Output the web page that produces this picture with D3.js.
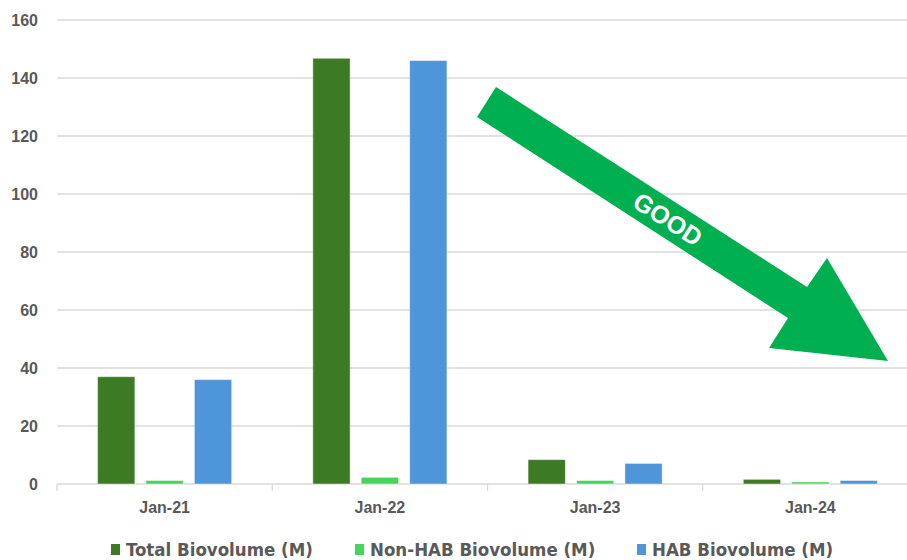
<!DOCTYPE html>
<html>
<head>
<meta charset="utf-8">
<script src="https://cdn.jsdelivr.net/npm/d3@7"></script>
<style>
  body { margin: 0; background: #fff; }
  svg { display: block; }
</style>
</head>
<body>
<div id="chart"></div>
<script>
// data
const categories = ['Jan-21', 'Jan-22', 'Jan-23', 'Jan-24'];
const seriesNames = ['Total Biovolume (M)', 'Non-HAB Biovolume (M)', 'HAB Biovolume (M)'];
const totalValues = [37.0, 146.8, 8.4, 1.6];
const nonHabValues = [1.2, 2.3, 1.2, 0.7];
const habValues = [36.0, 146.0, 7.1, 1.2];
const yTicks = [0, 20, 40, 60, 80, 100, 120, 140, 160];
const colors = ['#3c7a24', '#47d45a', '#4f95da'];

const width = 907, height = 560;
const margin = { top: 20, right: -11, bottom: 76, left: 57 }; // plot runs past right edge
const plotW = width - margin.left - margin.right;
const plotH = height - margin.top - margin.bottom;

const svg = d3.select('#chart').append('svg')
  .attr('width', width)
  .attr('height', height);

const g = svg.append('g')
  .attr('transform', 'translate(' + margin.left + ',' + margin.top + ')');

// scales
const x0 = d3.scaleBand()
  .domain(categories)
  .range([0, plotW])
  .paddingInner(0.377)
  .paddingOuter(0.1885);

const x1 = d3.scaleBand()
  .domain(seriesNames)
  .range([0, x0.bandwidth()])
  .paddingInner(0.23)
  .paddingOuter(0);

const y = d3.scaleLinear()
  .domain([0, 160])
  .range([plotH, 0]);

// gridlines
g.append('g')
  .selectAll('line')
  .data(yTicks)
  .join('line')
  .attr('x1', 0)
  .attr('x2', plotW)
  .attr('y1', d => y(d))
  .attr('y2', d => y(d))
  .attr('stroke', '#d9d9d9')
  .attr('stroke-width', 1.3);

// y labels
const yAxis = d3.axisLeft(y).tickValues(yTicks).tickSize(0).tickPadding(19);
g.append('g')
  .call(yAxis)
  .call(s => s.select('.domain').remove())
  .selectAll('text')
  .attr('fill', '#595959')
  .style('font-family', 'Liberation Sans, Arial, sans-serif')
  .style('font-weight', 'bold')
  .style('font-size', '16px');

// x axis ticks at category boundaries
const step = x0.step();
g.append('g')
  .selectAll('line')
  .data(d3.range(categories.length + 1))
  .join('line')
  .attr('x1', i => i * step)
  .attr('x2', i => i * step)
  .attr('y1', plotH)
  .attr('y2', plotH + 7)
  .attr('stroke', '#d9d9d9')
  .attr('stroke-width', 1.3);

g.append('g')
  .selectAll('text')
  .data(categories)
  .join('text')
  .attr('x', d => x0(d) + x0.bandwidth() / 2)
  .attr('y', plotH + 29)
  .attr('text-anchor', 'middle')
  .attr('fill', '#595959')
  .style('font-family', 'Liberation Sans, Arial, sans-serif')
  .style('font-weight', 'bold')
  .style('font-size', '16px')
  .text(d => d);

// bars
const seriesValues = [totalValues, nonHabValues, habValues];
const barData = [];
categories.forEach((c, i) => {
  seriesNames.forEach((s, j) => {
    barData.push({ cat: c, series: s, value: seriesValues[j][i], color: colors[j] });
  });
});

g.append('g')
  .selectAll('rect')
  .data(barData)
  .join('rect')
  .attr('x', d => x0(d.cat) + x1(d.series))
  .attr('y', d => y(d.value))
  .attr('width', x1.bandwidth())
  .attr('height', d => plotH - y(d.value))
  .attr('fill', d => d.color)
  .attr('stroke', '#ffffff')
  .attr('stroke-opacity', 0.45)
  .attr('stroke-width', 1);

// annotation arrow
const arrowPts = [[496, 87], [807, 287], [827, 258], [888, 361], [769, 348], [788, 318], [477, 117]];
svg.append('polygon')
  .attr('points', arrowPts.map(p => p.join(',')).join(' '))
  .attr('fill', '#00b050');

svg.append('text')
  .attr('transform', 'translate(668,219) rotate(32.7)')
  .attr('text-anchor', 'middle')
  .attr('dominant-baseline', 'central')
  .attr('fill', '#ffffff')
  .style('font-family', 'Liberation Sans, Arial, sans-serif')
  .style('font-weight', 'bold')
  .style('font-size', '25px')
  .text('GOOD');

// legend
const legendX = [111, 355, 637];
const legend = svg.append('g');
seriesNames.forEach((s, j) => {
  legend.append('rect')
    .attr('x', legendX[j])
    .attr('y', 544)
    .attr('width', 9)
    .attr('height', 11)
    .attr('fill', colors[j]);
  legend.append('text')
    .attr('x', legendX[j] + 15)
    .attr('y', 556)
    .attr('fill', '#595959')
    .style('font-family', 'DejaVu Sans Condensed, sans-serif')
    .style('font-weight', 'bold')
    .style('font-size', '18.5px')
    .text(s);
});
</script>
</body>
</html>
